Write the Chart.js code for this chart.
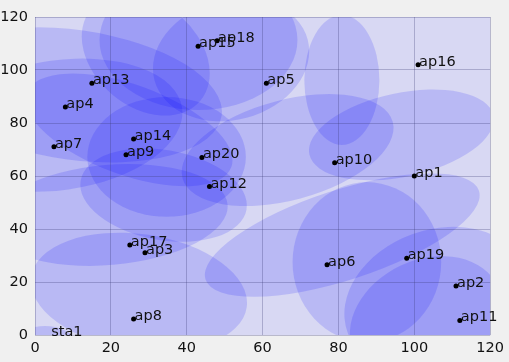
<!DOCTYPE html>
<html>
<head>
<meta charset="utf-8">
<script src="https://cdn.jsdelivr.net/npm/chart.js@4.4.1/dist/chart.umd.min.js"></script>
<style>
  html, body { margin: 0; padding: 0; background: #f0f0f0; }
  #wrap { width: 509px; height: 362px; }
</style>
</head>
<body>
<div id="wrap"><canvas id="chart"></canvas></div>
<script>
// nodes
const names = ['ap1','ap2','ap3','ap4','ap5','ap6','ap7','ap8','ap9','ap10',
  'ap11','ap12','ap13','ap14','ap15','ap16','ap17','ap18','ap19','ap20','sta1'];
const xs = [100, 111, 29, 8, 61, 77, 5, 26, 24, 79, 112, 46, 15, 26, 43, 101, 25, 48, 98, 44, 4];
const ys = [60, 18.5, 31, 86, 95, 26.5, 71, 6, 68, 65, 5.5, 56, 95, 74, 109, 102, 34, 111, 29, 67, 0];

// coverage ellipses (data units, angle in degrees)
const ellCx = [10.4, 6.5, 29.2, 43.1, 51.7, 80.9, 34.7, 24.8, 19.6, 27.4, 33.9, 66.6, 96.6, 87.5, 105.7, 103.1, 81.0, 2.6];
const ellCy = [90.6, 79.2, 105.7, 111.3, 103.8, 96.2, 67.2, 77.4, 45.3, 16.2, 52.8, 69.8, 75.5, 27.5, 13.2, 5.7, 37.7, -2.6];
const ellRx = [39.2, 32.6, 18.8, 26.1, 20.9, 9.9, 20.9, 28.7, 31.3, 28.7, 22.2, 28.7, 24.8, 19.6, 24.8, 20.9, 37.9, 7.8];
const ellRy = [24.5, 24.5, 19.6, 26.4, 22.6, 24.5, 22.6, 17.0, 18.9, 21.9, 17.0, 18.9, 15.8, 30.2, 26.4, 22.6, 17.0, 6.0];
const ellAng = [8, -8, 40, 0, -15, 0, 0, 20, -5, 8, 10, -15, -12, 0, -20, -25, -18, 0];

const ticks = [0, 20, 40, 60, 80, 100, 120];

const font = { family: 'DejaVu Sans', size: 14.5 };

const ellipses = {
  id: 'ellipses',
  beforeDraw(chart) {
    const { ctx, chartArea: a, scales: { x, y } } = chart;
    ctx.save();
    ctx.fillStyle = 'rgb(216,216,243)';
    ctx.fillRect(a.left, a.top, a.right - a.left, a.bottom - a.top);
    ctx.beginPath();
    ctx.rect(a.left, a.top, a.right - a.left, a.bottom - a.top);
    ctx.clip();
    ctx.fillStyle = 'rgba(0,0,255,0.14)';
    ellCx.forEach((cx, i) => {
      const px = x.getPixelForValue(cx), py = y.getPixelForValue(ellCy[i]);
      const rx = Math.abs(x.getPixelForValue(cx + ellRx[i]) - px);
      const ry = Math.abs(y.getPixelForValue(ellCy[i] + ellRy[i]) - py);
      ctx.beginPath();
      ctx.ellipse(px, py, rx, ry, ellAng[i] * Math.PI / 180, 0, Math.PI * 2);
      ctx.fill();
    });
    ctx.restore();
  }
};

const labels = {
  id: 'labels',
  afterDatasetsDraw(chart) {
    const { ctx } = chart;
    const pts = chart.getDatasetMeta(0).data;
    ctx.save();
    ctx.font = font.size + 'px ' + font.family;
    ctx.fillStyle = '#111';
    ctx.textAlign = 'left';
    ctx.textBaseline = 'alphabetic';
    pts.forEach((p, i) => ctx.fillText(names[i], p.x + 1, p.y + 1));
    ctx.restore();
  }
};

new Chart(document.getElementById('chart'), {
  type: 'scatter',
  data: {
    datasets: [{
      data: xs.map((v, i) => ({ x: v, y: ys[i] })),
      backgroundColor: '#000',
      borderWidth: 0,
      pointRadius: names.map(n => n.startsWith('sta') ? 0 : 2.5)
    }]
  },
  options: {
    responsive: true,
    maintainAspectRatio: false,
    animation: false,
    layout: { padding: { top: 17, right: 17, left: 0, bottom: 0 } },
    plugins: { legend: { display: false }, tooltip: { enabled: false } },
    scales: {
      x: {
        min: 0, max: 120,
        afterBuildTicks: s => { s.ticks = ticks.map(v => ({ value: v })); },
        afterFit: s => { s.height = 27; },
        border: { display: false },
        grid: { color: 'rgba(60,60,120,0.3)', lineWidth: 1, drawTicks: false },
        ticks: { color: '#111', font, padding: 5, maxRotation: 0 }
      },
      y: {
        min: 0, max: 120,
        afterBuildTicks: s => { s.ticks = ticks.map(v => ({ value: v })); },
        afterFit: s => { s.width = 35; },
        border: { display: false },
        grid: { color: 'rgba(60,60,120,0.3)', lineWidth: 1, drawTicks: false },
        ticks: { color: '#111', font, padding: 7 }
      }
    }
  },
  plugins: [ellipses, labels]
});
</script>
</body>
</html>
